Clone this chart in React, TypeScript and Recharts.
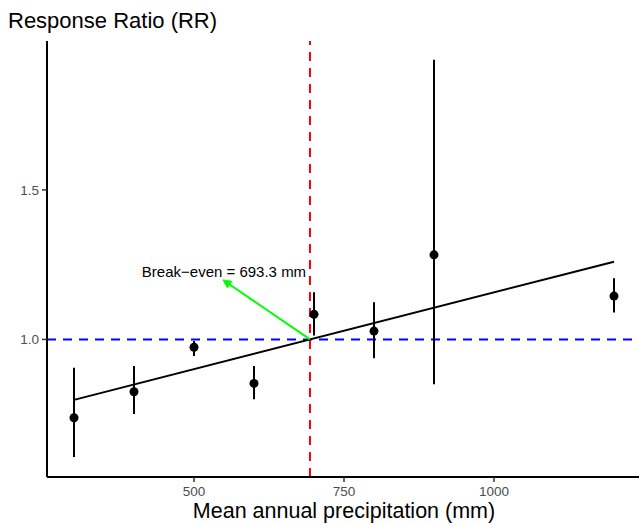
import React from "react";
import {
  ComposedChart,
  XAxis,
  YAxis,
  Scatter,
  Line,
  ErrorBar,
  ReferenceLine,
  ReferenceDot,
} from "recharts";

const precipitation = [300, 400, 500, 600, 700, 800, 900, 1200];
const responseRatio = [0.738, 0.825, 0.974, 0.853, 1.084, 1.028, 1.283, 1.145];
const ciLower = [0.607, 0.751, 0.945, 0.8, 1.013, 0.937, 0.85, 1.09];
const ciUpper = [0.905, 0.911, 0.995, 0.911, 1.158, 1.124, 1.935, 1.205];

const fitX = [300, 1200];
const fitY = [0.798, 1.26];

const breakEven = 693.3;
const arrowEnd = { x: 548.3, y: 1.199 };
const labelPos = { x: 550, y: 1.209 };
const labelText = "Break\u2212even = 693.3 mm";

const xTicks = [500, 750, 1000];
const yTicks = [1.0, 1.5];

const FONT = "'Liberation Sans', Arial, Helvetica, sans-serif";

const points = precipitation.map((x, i) => ({
  x,
  y: responseRatio[i],
  err: [responseRatio[i] - ciLower[i], ciUpper[i] - responseRatio[i]],
}));

const fitData = fitX.map((x, i) => ({ x, y: fitY[i] }));

const Arrow = (p: any) => {
  const { x1, y1, x2, y2 } = p;
  const ang = Math.atan2(y2 - y1, x2 - x1);
  const len = 9;
  const half = Math.PI / 7;
  const ax = x2 - len * Math.cos(ang - half);
  const ay = y2 - len * Math.sin(ang - half);
  const bx = x2 - len * Math.cos(ang + half);
  const by = y2 - len * Math.sin(ang + half);
  const bxm = x2 - len * 0.8 * Math.cos(ang);
  const bym = y2 - len * 0.8 * Math.sin(ang);
  return (
    <g>
      <line x1={x1} y1={y1} x2={bxm} y2={bym} stroke="#00FF00" strokeWidth={2} />
      <polygon points={`${x2},${y2} ${ax},${ay} ${bx},${by}`} fill="#00FF00" stroke="#00FF00" strokeWidth={1} />
    </g>
  );
};

const LabelShape = (p: any) => (
  <text
    x={p.cx}
    y={p.cy}
    textAnchor="middle"
    fontSize={15}
    fontFamily={FONT}
    fill="#000"
  >
    {labelText}
  </text>
);

const Dot = (p: any) => <circle cx={p.cx} cy={p.cy} r={4.5} fill="#000" />;

export default function App() {
  return (
    <div
      style={{
        position: "absolute",
        left: 0,
        top: 0,
        width: 639,
        height: 524,
        overflow: "hidden",
        background: "#fff",
      }}
    >
      <ComposedChart
        width={641}
        height={524}
        margin={{ top: 41, right: 0, bottom: 0, left: 0 }}
      >
        <XAxis
          type="number"
          dataKey="x"
          domain={[255, 1245]}
          ticks={xTicks}
          interval={0}
          allowDataOverflow
          height={47}
          axisLine={{ stroke: "#000", strokeWidth: 2 }}
          tickLine={{ stroke: "#333", strokeWidth: 1.5 }}
          tickSize={5}
          tickMargin={4}
          tick={{ fill: "#4d4d4d", fontSize: 13.5, fontFamily: FONT }}
        />
        <YAxis
          type="number"
          dataKey="y"
          domain={[0.54, 1.998]}
          ticks={yTicks}
          interval={0}
          allowDataOverflow
          width={47}
          axisLine={{ stroke: "#000", strokeWidth: 2 }}
          tickLine={{ stroke: "#333", strokeWidth: 1.5 }}
          tickSize={5}
          tickMargin={3}
          tickFormatter={(v: number) => v.toFixed(1)}
          tick={{ fill: "#4d4d4d", fontSize: 13.5, fontFamily: FONT }}
        />
        <ReferenceLine
          y={1}
          stroke="#0000FF"
          strokeWidth={2}
          strokeDasharray="9 7"
        />
        <ReferenceLine
          x={breakEven}
          stroke="#FF0000"
          strokeWidth={2}
          strokeDasharray="9 7"
        />
        <Line
          data={fitData}
          dataKey="y"
          type="linear"
          stroke="#000"
          strokeWidth={2}
          dot={false}
          activeDot={false}
          isAnimationActive={false}
        />
        <Scatter
          data={points}
          dataKey="y"
          shape={Dot}
          isAnimationActive={false}
        >
          <ErrorBar
            dataKey="err"
            direction="y"
            width={0}
            stroke="#000"
            strokeWidth={2}
            isAnimationActive={false}
          />
        </Scatter>
        <ReferenceLine
          segment={[
            { x: breakEven, y: 1 },
            { x: arrowEnd.x, y: arrowEnd.y },
          ]}
          shape={Arrow}
        />
        <ReferenceDot
          x={labelPos.x}
          y={labelPos.y}
          r={1}
          shape={LabelShape}
        />
      </ComposedChart>
      <svg
        width={639}
        height={524}
        style={{ position: "absolute", left: 0, top: 0, pointerEvents: "none" }}
      >
        <text x={8} y={28} fontSize={22} fontFamily={FONT} fill="#000">
          Response Ratio (RR)
        </text>
        <text
          x={344}
          y={518}
          fontSize={21.5}
          fontFamily={FONT}
          fill="#000"
          textAnchor="middle"
        >
          Mean annual precipitation (mm)
        </text>
      </svg>
    </div>
  );
}
